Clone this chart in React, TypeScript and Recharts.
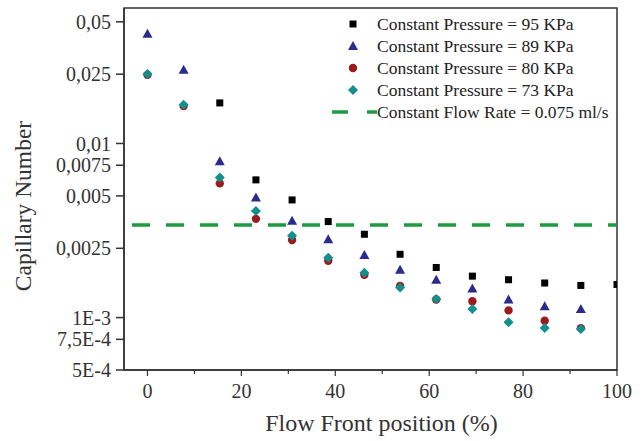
import React from 'react';
import {
  ScatterChart,
  Scatter,
  XAxis,
  YAxis,
  ReferenceLine,
  ReferenceArea,
  Label,
} from 'recharts';

// flow front positions (%)
const positions = [0, 7.7, 15.4, 23.1, 30.8, 38.5, 46.2, 53.8, 61.5, 69.2, 76.9, 84.6, 92.3, 100];

// capillary numbers (null = no point)
const p95 = [null, null, 0.0171, 0.00618, 0.00474, 0.00356, 0.00301, 0.00231, 0.00194, 0.00173, 0.00165, 0.00158, 0.00153, 0.00155];
const p89 = [0.0427, 0.0265, 0.0079, 0.00489, 0.0036, 0.00282, 0.00229, 0.00188, 0.00165, 0.00147, 0.00127, 0.00116, 0.00112, null];
const p80 = [0.0248, 0.0164, 0.0059, 0.00369, 0.00279, 0.00212, 0.00176, 0.00152, 0.00127, 0.00124, 0.0011, 0.00096, 0.00087, null];
const p73 = [0.0251, 0.0167, 0.00637, 0.0041, 0.00295, 0.00221, 0.00181, 0.00149, 0.00128, 0.00112, 0.00094, 0.00087, 0.00086, null];
const flowRate = 0.0034;

const yTicks = [0.0005, 0.00075, 0.001, 0.0025, 0.005, 0.0075, 0.01, 0.025, 0.05];
const yTickLabels = ['5E-4', '7,5E-4', '1E-3', '0,0025', '0,005', '0,0075', '0,01', '0,025', '0,05'];
const xTicks = [0, 10, 20, 30, 40, 50, 60, 70, 80, 90, 100];

const FONT = '"Liberation Serif", "Times New Roman", serif';
const TEXT = '#333';

const toPoints = (vals: (number | null)[]) =>
  positions
    .map((x, i) => ({ x, y: vals[i] }))
    .filter((p) => p.y !== null);

const Square = ({ cx, cy, fill }: any) => (
  <rect x={cx - 3.5} y={cy - 3.5} width={7} height={7} fill={fill} />
);
const Triangle = ({ cx, cy, fill }: any) => (
  <polygon points={`${cx},${cy - 5} ${cx + 5},${cy + 4} ${cx - 5},${cy + 4}`} fill={fill} />
);
const Dot = ({ cx, cy, fill }: any) => <circle cx={cx} cy={cy} r={4.2} fill={fill} />;
const Diamond = ({ cx, cy, fill }: any) => (
  <polygon points={`${cx},${cy - 5} ${cx + 5},${cy} ${cx},${cy + 5} ${cx - 5},${cy}`} fill={fill} />
);

const series = [
  { name: 'Constant Pressure = 95 KPa', data: toPoints(p95), color: '#000000', shape: Square },
  { name: 'Constant Pressure = 89 KPa', data: toPoints(p89), color: '#2b2b8c', shape: Triangle },
  { name: 'Constant Pressure = 80 KPa', data: toPoints(p80), color: '#9a1a1e', shape: Dot },
  { name: 'Constant Pressure = 73 KPa', data: toPoints(p73), color: '#138f8c', shape: Diamond },
];
const lineColor = '#1e9a40';

const XTick = ({ x, y, payload }: any) => {
  const major = payload.value % 20 === 0;
  const axisY = y - 10;
  return (
    <g>
      <line x1={x} x2={x} y1={axisY} y2={axisY + (major ? 6 : 4)} stroke="#333" strokeWidth={1.2} />
      {major && (
        <text x={x} y={axisY + 28} textAnchor="middle" fontSize={20} fontFamily={FONT} fill={TEXT}>
          {payload.value}
        </text>
      )}
    </g>
  );
};

const LegendBox = () => (
  <div
    style={{
      position: 'absolute',
      left: 330,
      top: 13,
      fontFamily: FONT,
      fontSize: 17.5,
      color: '#222',
      lineHeight: '22px',
    }}
  >
    {series.map((s) => (
      <div key={s.name} style={{ display: 'flex', alignItems: 'center', whiteSpace: 'nowrap' }}>
        <svg width={47} height={22}>
          {React.createElement(s.shape, { cx: 23, cy: 11, fill: s.color })}
        </svg>
        <span>{s.name}</span>
      </div>
    ))}
    <div style={{ display: 'flex', alignItems: 'center', whiteSpace: 'nowrap' }}>
      <svg width={47} height={22}>
        <line x1={2} x2={18} y1={11} y2={11} stroke={lineColor} strokeWidth={3.5} />
        <line x1={37} x2={47} y1={11} y2={11} stroke={lineColor} strokeWidth={3.5} />
      </svg>
      <span>Constant Flow Rate = 0.075 ml/s</span>
    </div>
  </div>
);

export default function App() {
  return (
    <div style={{ position: 'absolute', left: 0, top: 0, width: 643, height: 441, background: '#fff' }}>
      <ScatterChart width={643} height={441} margin={{ top: 8, right: 26, bottom: 0, left: 0 }}>
        <XAxis
          type="number"
          dataKey="x"
          domain={[-5, 100]}
          ticks={xTicks}
          tick={<XTick />}
          tickLine={false}
          tickSize={6}
          tickMargin={4}
          height={71}
          stroke="#333"
          strokeWidth={1.5}
          allowDataOverflow
        >
          <Label
            value="Flow Front position (%)"
            position="insideBottom"
            offset={10}
            dx={11}
            style={{ fontFamily: FONT, fontSize: 24, fill: TEXT }}
          />
        </XAxis>
        <YAxis
          type="number"
          dataKey="y"
          scale="log"
          domain={[0.0005, 0.06]}
          ticks={yTicks}
          tickFormatter={(v: number) => yTickLabels[yTicks.indexOf(v)] ?? ''}
          tick={{ fontFamily: FONT, fontSize: 20, fill: TEXT }}
          tickSize={8}
          tickMargin={5}
          width={124}
          stroke="#333"
          strokeWidth={1.5}
          allowDataOverflow
          interval={0}
        >
          <Label
            value="Capillary Number"
            angle={-90}
            position="insideLeft"
            offset={23}
            dy={17}
            style={{ fontFamily: FONT, fontSize: 23.5, fill: TEXT, textAnchor: 'middle' }}
          />
        </YAxis>
        <ReferenceArea
          x1={-5}
          x2={100}
          y1={0.0005}
          y2={0.06}
          fill="none"
          stroke="#333"
          strokeWidth={1.5}
        />
        <ReferenceLine
          y={flowRate}
          stroke={lineColor}
          strokeWidth={3.5}
          strokeDasharray="18 16"
          strokeDashoffset={-8}
        />
        {series.map((s) => (
          <Scatter
            key={s.name}
            name={s.name}
            data={s.data}
            fill={s.color}
            shape={s.shape}
            isAnimationActive={false}
          />
        ))}
      </ScatterChart>
      <LegendBox />
    </div>
  );
}
